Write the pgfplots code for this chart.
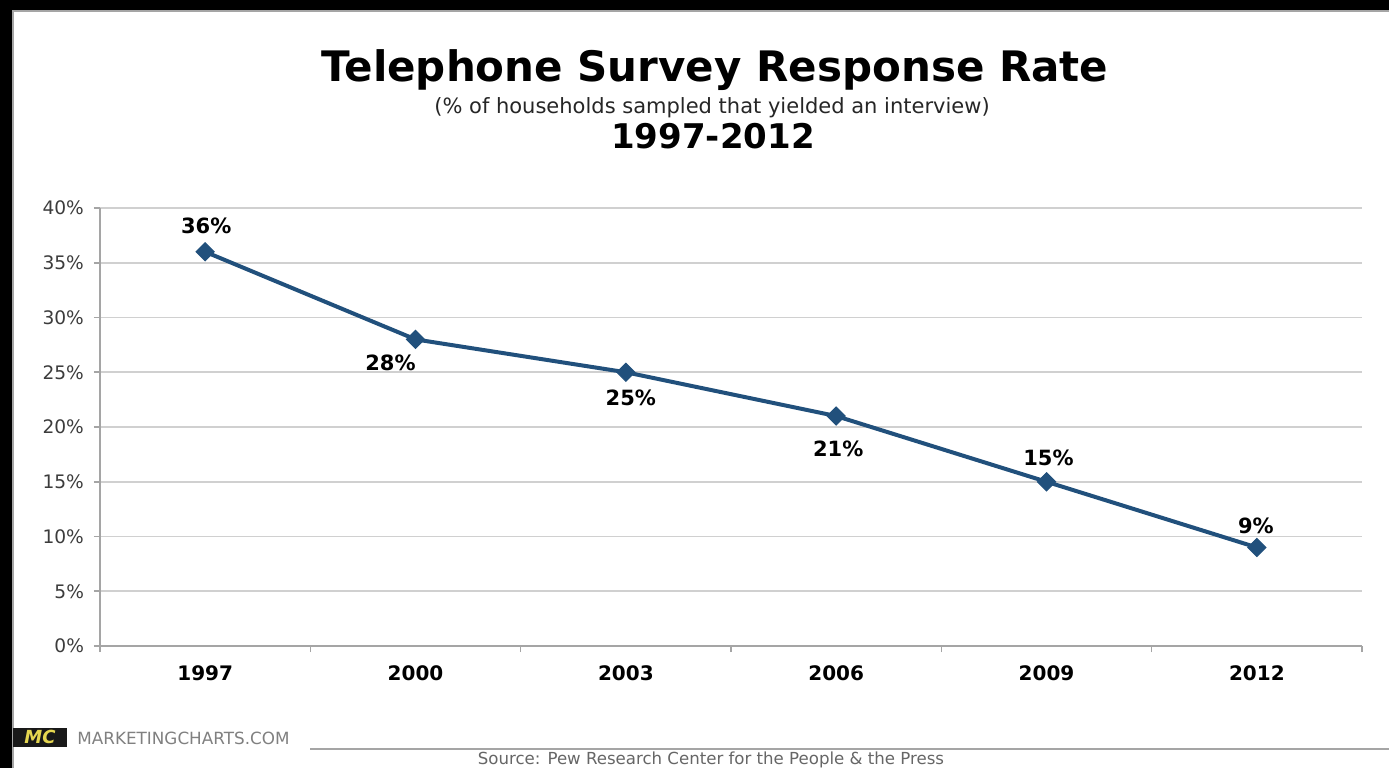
\documentclass[border=0pt]{standalone}
\usepackage{pgfplots}
\pgfplotsset{compat=1.18}
\usepackage{pgfplotstable}
\usepackage{fontspec}
\setmainfont{DejaVu Sans}
\definecolor{linecol}{RGB}{33,80,124}
\definecolor{gridcol}{RGB}{208,208,208}
\definecolor{axiscol}{RGB}{165,165,165}
\definecolor{ticktext}{RGB}{60,60,60}
\definecolor{mcyellow}{RGB}{230,215,80}
\pgfplotstableread{
x y dx dy
0 36 0.5 13
1 28 -12.5 -11.5
2 25 2.5 -13
3 21 1 -16.5
4 15 1 12
5 9 -0.5 11
}\ratetable
\begin{document}
\begin{tikzpicture}
\useasboundingbox (0,0) rectangle (694.5pt,384pt);
\fill[black] (0,0) rectangle (694.5pt,384pt);
\fill[white] (6.5pt,0) rectangle (694.5pt,378.5pt);
\draw[axiscol,line width=0.8pt] (6.5pt,0) -- (6.5pt,378.5pt) -- (694.5pt,378.5pt);
\begin{axis}[
  at={(50pt,61pt)}, anchor=south west,
  scale only axis, width=631pt, height=219pt,
  xmin=-0.5, xmax=5.5, ymin=0, ymax=40,
  axis x line*=bottom, axis y line*=left,
  axis line style={axiscol, line width=0.8pt},
  xtick={0,...,5},
  xticklabels={1997,2000,2003,2006,2009,2012},
  minor xtick={-0.5,0.5,...,5.5},
  major x tick style={draw=none},
  minor tick length=3pt,
  ytick={0,5,...,40},
  yticklabels={0\%,5\%,10\%,15\%,20\%,25\%,30\%,35\%,40\%},
  major tick length=3pt,
  tick align=outside,
  tick style={axiscol, line width=0.8pt},
  ymajorgrids,
  grid style={gridcol, line width=0.8pt},
  xticklabel style={font=\fontsize{10}{12}\selectfont\bfseries, text=black, yshift=-3.5pt},
  yticklabel style={font=\fontsize{9.3}{11}\selectfont, text=ticktext, xshift=-1.5pt},
  /pgf/number format/assume math mode=true,
  clip=false,
]
\addplot[linecol, line width=2pt, mark=square*, mark size=3.2pt,
  mark options={rotate=45, fill=linecol, draw=linecol, line width=0.5pt},
  point meta=y,
  visualization depends on={\thisrow{dx} \as \dx},
  visualization depends on={\thisrow{dy} \as \dy},
  nodes near coords={\pgfmathprintnumber{\pgfplotspointmeta}\%},
  every node near coord/.append style={anchor=center, font=\fontsize{10.5}{12}\selectfont\bfseries, text=black, xshift={\dx pt}, yshift={\dy pt}},
] table[x=x, y=y] {\ratetable};
\end{axis}
\node[font=\fontsize{21}{25}\selectfont\bfseries] at (357.5pt,349pt) {Telephone Survey Response Rate};
\node[font=\fontsize{10.5}{12}\selectfont, text=black!85] at (356pt,330pt) {(\% of households sampled that yielded an interview)};
\node[font=\fontsize{17}{20}\selectfont\bfseries] at (356.5pt,316pt) {1997-2012};
\fill[black!90] (6.5pt,10.5pt) rectangle (33.5pt,20pt);
\node[font=\fontsize{9}{10}\selectfont\bfseries\itshape, text=mcyellow] at (20pt,15.3pt) {MC};
\node[anchor=west, font=\fontsize{8.4}{10}\selectfont, text=black!50, inner sep=0pt] at (38.5pt,15pt) {MARKETINGCHARTS.COM};
\draw[axiscol, line width=1pt] (155pt,9.5pt) -- (694.5pt,9.5pt);
\node[font=\fontsize{8.3}{9}\selectfont, text=black!60] at (355.5pt,3.8pt) {Source: Pew Research Center for the People \& the Press};
\end{tikzpicture}
\end{document}
